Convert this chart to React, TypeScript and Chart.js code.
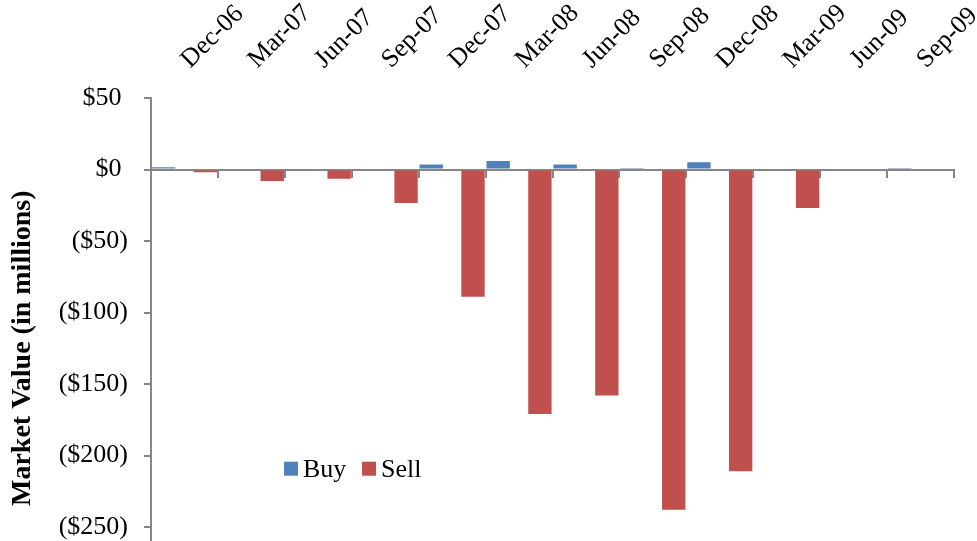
import React, { useEffect, useRef } from 'react';
import { Chart, registerables } from 'chart.js';

Chart.register(...registerables);

const categories = ['Dec-06', 'Mar-07', 'Jun-07', 'Sep-07', 'Dec-07', 'Mar-08', 'Jun-08', 'Sep-08', 'Dec-08', 'Mar-09', 'Jun-09', 'Sep-09'];
const buyValues = [1.5, 0, -0.5, 0, 3.5, 6, 3.5, 1, 5, 0, 0, 1];
const sellValues = [-2, -8, -6.5, -23.5, -89, -171, -158, -238, -211, -27, 0, 0];
const yTickValues = [-250, -200, -150, -100, -50, 0, 50];
const seriesNames = ['Buy', 'Sell'];
const seriesColors = ['#4F81BD', '#C0504D'];
const yAxisTitle = 'Market Value (in millions)';

const FONT = '"Liberation Serif", "Times New Roman", serif';
const AXIS_GRAY = '#868686';

function formatMoney(v: number): string {
  return v < 0 ? `($${-v})` : `$${v} `;
}

const insideLegend = {
  id: 'insideLegend',
  afterDraw(chart: any) {
    const { ctx, chartArea } = chart;
    ctx.save();
    ctx.font = `26px ${FONT}`;
    ctx.textAlign = 'left';
    ctx.textBaseline = 'alphabetic';
    let x = chartArea.left + 133;
    const top = chartArea.top + 363.7;
    chart.data.datasets.forEach((ds: any) => {
      ctx.fillStyle = ds.backgroundColor;
      ctx.fillRect(x, top, 14, 14);
      ctx.fillStyle = '#000000';
      ctx.fillText(ds.label, x + 19, top + 15.3);
      x += 19 + ctx.measureText(ds.label).width + 15.7;
    });
    ctx.restore();
  },
};

export default function App() {
  const canvasRef = useRef<HTMLCanvasElement | null>(null);

  useEffect(() => {
    document.body.style.margin = '0';
    const canvas = canvasRef.current;
    if (!canvas) return;
    const chart = new Chart(canvas, {
      type: 'bar',
      data: {
        labels: categories,
        datasets: [
          {
            label: seriesNames[0],
            data: buyValues,
            backgroundColor: seriesColors[0],
            borderWidth: 0,
            categoryPercentage: 1.247,
            barPercentage: 0.56,
          },
          {
            label: seriesNames[1],
            data: sellValues,
            backgroundColor: seriesColors[1],
            borderWidth: 0,
            categoryPercentage: 1.247,
            barPercentage: 0.56,
          },
        ],
      },
      options: {
        responsive: false,
        animation: false,
        events: [],
        layout: { padding: { left: 0, right: 23, top: 0, bottom: 2.5 } },
        plugins: {
          legend: { display: false },
          tooltip: { enabled: false },
        },
        scales: {
          x: {
            type: 'category',
            position: 'top',
            offset: true,
            grid: { display: false, drawTicks: false },
            border: { display: false },
            ticks: {
              autoSkip: false,
              minRotation: 45,
              maxRotation: 45,
              padding: 23,
              labelOffset: 23,
              color: '#000000',
              font: { family: FONT, size: 26 },
            },
            afterFit: (s: any) => {
              s.height = 98;
              s.paddingLeft = 0;
              s.paddingRight = 0;
            },
          },
          xZero: {
            type: 'category',
            position: { y: 0 },
            offset: true,
            z: 1,
            ticks: { display: false },
            grid: {
              display: true,
              drawOnChartArea: false,
              drawTicks: true,
              tickLength: 7,
              offset: true,
              color: AXIS_GRAY,
              lineWidth: 2,
            },
            border: { display: true, color: AXIS_GRAY, width: 2 },
          },
          y: {
            type: 'linear',
            position: 'left',
            min: -300,
            max: 50,
            afterBuildTicks: (s: any) => {
              s.ticks = yTickValues.map((v) => ({ value: v }));
            },
            ticks: {
              padding: 16,
              color: '#000000',
              font: { family: FONT, size: 26 },
              callback: (value: any) => formatMoney(Number(value)),
            },
            grid: {
              display: true,
              drawOnChartArea: false,
              drawTicks: true,
              tickLength: 7,
              color: AXIS_GRAY,
              lineWidth: 2,
            },
            border: { display: true, color: AXIS_GRAY, width: 2 },
            title: {
              display: true,
              text: yAxisTitle,
              color: '#000000',
              font: { family: FONT, size: 28, weight: 'bold' },
              padding: { top: 6, bottom: 0 },
            },
            afterFit: (s: any) => {
              s.width = 151;
              s.paddingTop = 0;
              s.paddingBottom = 0;
            },
          },
        },
      },
      plugins: [insideLegend],
    } as any);
    return () => chart.destroy();
  }, []);

  return (
    <div style={{ width: 977, height: 541, overflow: 'hidden', position: 'relative', background: '#ffffff' }}>
      <canvas ref={canvasRef} width={977} height={601} style={{ display: 'block' }} />
    </div>
  );
}
